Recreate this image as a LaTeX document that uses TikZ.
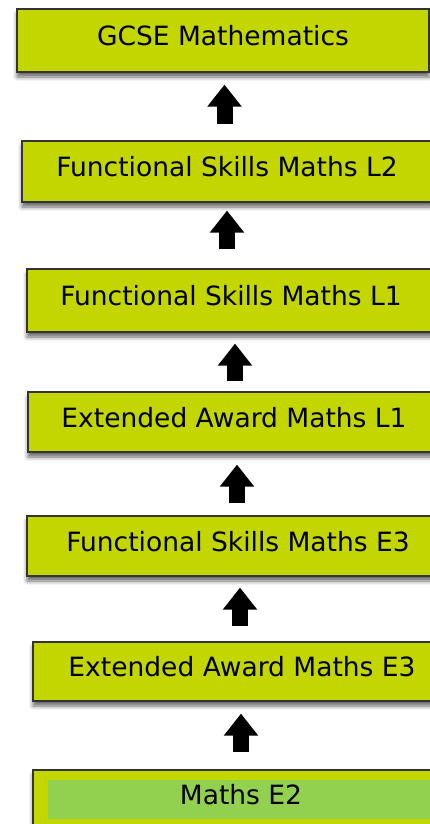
\documentclass[tikz,border=0pt]{standalone}
\usepackage{fontspec}
\setmainfont{DejaVu Sans}
\usetikzlibrary{arrows.meta,shadows.blur}
\definecolor{lvlgreen}{RGB}{196,214,0}
\definecolor{lightgreen}{RGB}{146,208,80}
\begin{document}
\begin{tikzpicture}
    [   x=1pt,y=-1pt,
        lnode/.style={draw=black!80,line width=1.2pt,fill=lvlgreen,rectangle,
            minimum width=#1,minimum height=61pt,inner sep=0pt,
            text height=19pt,text depth=9pt,font=\fontsize{26.5}{30}\selectfont,
            blur shadow={shadow xshift=0pt,shadow yshift=-5pt,shadow blur radius=4pt,shadow opacity=60}},
        upblock/.style={line width=16pt,black,-{Triangle[width=33pt,length=22pt]}},
    ]
        \useasboundingbox (0,0) rectangle (430,824);
        \clip (0,0) rectangle (430,824);
        \node[lnode=412pt,minimum height=63pt] (gcse) at (223,40.5) {GCSE Mathematics};
        \node[lnode=410pt] (fsl2) at (227,171.5) {Functional Skills Maths L2};
        \node[lnode=408pt,minimum height=63pt] (fsl1) at (231,300.5) {Functional Skills Maths L1};
        \node[lnode=412pt,minimum height=60pt] (eal1) at (234,422) {Extended Award Maths L1};
        \node[lnode=422pt,minimum height=60pt] (fse3) at (238,546) {Functional Skills Maths E3};
        \node[lnode=418pt,minimum height=59pt] (eae3) at (242,671.5) {Extended Award Maths E3};
        \node[lnode=416pt,minimum height=62pt] (me2) at (241,801) {};
        \node[fill=lightgreen,minimum width=386pt,minimum height=39pt,inner sep=0pt,
            text height=19pt,text depth=9pt,font=\fontsize{26.5}{30}\selectfont] (e2) at (241,799.5) {Maths E2};
        \foreach \lo/\hi/\dx/\sa/\sb in {fsl2/gcse/-2.5/16/12,fsl1/fsl2/-4/19/8,eal1/fsl1/1/10/11,
            fse3/eal1/-1/12/12,eae3/fse3/-2/15/11,me2/eae3/0/17/12}
        {   \draw[upblock,shorten <=\sa pt,shorten >=\sb pt]
                ([xshift=\dx pt]\lo.north) -- ([xshift=\dx pt]\lo.north |- \hi.south);
        }
\end{tikzpicture}
\end{document}
